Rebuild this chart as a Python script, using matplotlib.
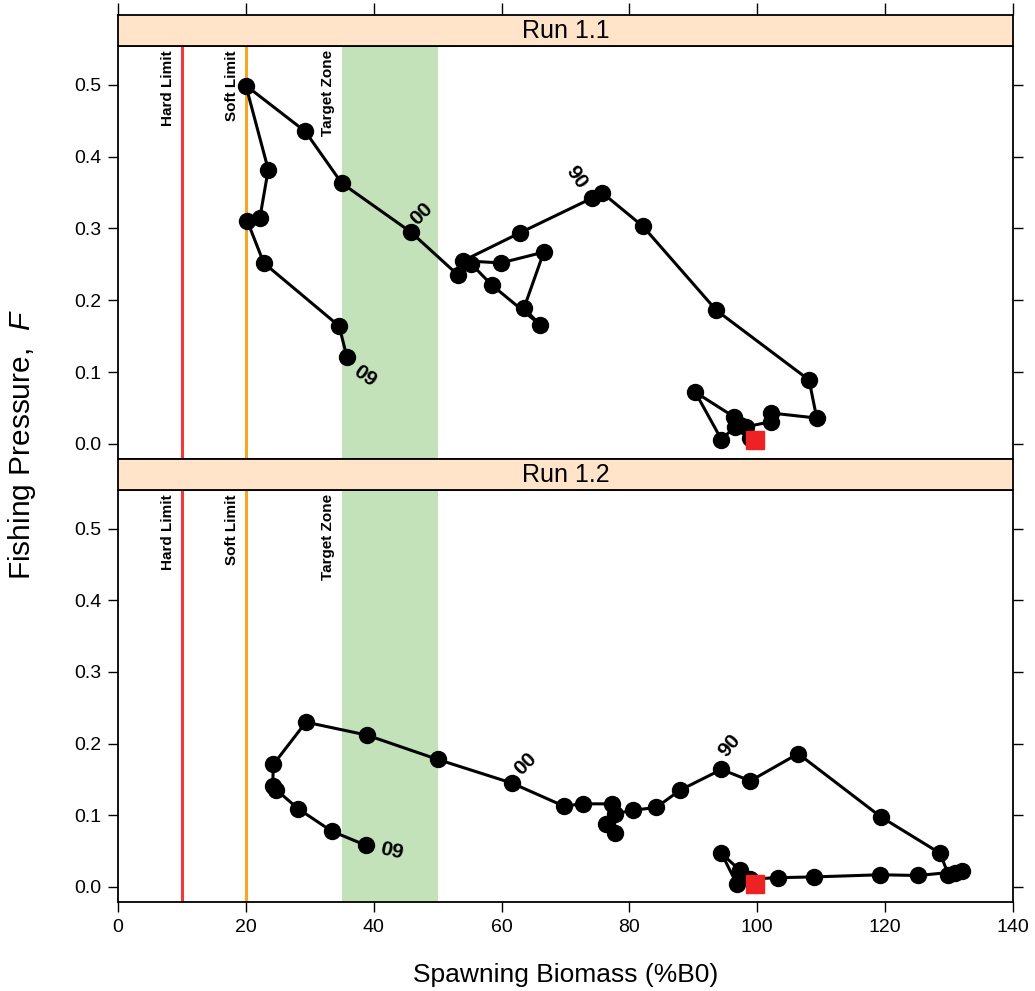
import numpy as np
import matplotlib
matplotlib.use("Agg")
import matplotlib.pyplot as plt
import matplotlib.transforms as mtransforms

plt.rcParams['font.family'] = ['Liberation Sans', 'DejaVu Sans']
plt.rcParams['mathtext.fontset'] = 'custom'
plt.rcParams['mathtext.rm'] = 'Liberation Sans'
plt.rcParams['mathtext.it'] = 'Liberation Sans:italic'

# reference points (%B0)
hard_limit = 10
soft_limit = 20
target_zone = (35, 50)

# Run 1.1 trajectory (biomass %B0, fishing pressure F)
run11_b = [99.7, 98.9, 97.3, 96.3, 90.3, 94.4, 96.5, 98.3, 102.2, 102.2, 109.3, 108.1,
           93.6, 82.1, 75.7, 74.1, 62.9, 54.0, 59.9, 66.6, 63.5, 66.0, 58.5, 55.2,
           53.2, 45.8, 35.0, 29.3, 20.0, 23.5, 22.2, 20.2, 22.8, 34.6, 35.8]
run11_f = [0.005, 0.008, 0.026, 0.038, 0.072, 0.006, 0.024, 0.024, 0.031, 0.043, 0.036, 0.089,
           0.186, 0.303, 0.350, 0.342, 0.294, 0.255, 0.252, 0.267, 0.189, 0.166, 0.221, 0.251,
           0.235, 0.295, 0.363, 0.435, 0.499, 0.382, 0.315, 0.311, 0.252, 0.164, 0.121]
run11_labels = {15: ("90", -11, 15, -55), 25: ("00", 8, 13, 45), 34: ("09", 13, -14, -35)}

# Run 1.2 trajectory
run12_b = [99.7, 97.3, 94.4, 96.8, 98.9, 103.3, 108.9, 119.2, 125.2, 132.1, 130.9, 129.9,
           128.6, 119.3, 106.4, 98.9, 94.4, 87.9, 84.2, 80.5, 77.7, 77.7, 76.4, 77.2,
           72.8, 69.7, 61.6, 50.0, 38.9, 29.4, 24.3, 24.2, 24.7, 28.2, 33.4, 38.8]
run12_f = [0.004, 0.023, 0.047, 0.004, 0.011, 0.013, 0.014, 0.017, 0.016, 0.022, 0.020, 0.017,
           0.047, 0.098, 0.186, 0.148, 0.164, 0.135, 0.111, 0.107, 0.102, 0.075, 0.088, 0.116,
           0.116, 0.113, 0.145, 0.178, 0.212, 0.230, 0.171, 0.141, 0.136, 0.109, 0.078, 0.058]
run12_labels = {16: ("90", 6, 17, 50), 26: ("00", 9.5, 14, 45), 35: ("09", 18.5, -4, -12)}

runs = [("Run 1.1", run11_b, run11_f, run11_labels),
        ("Run 1.2", run12_b, run12_f, run12_labels)]

W, H = 1035, 991
fig = plt.figure(figsize=(W / 100, H / 100), dpi=100)

left = 118 / W
width = (1013 - 118) / W
panels = [(46, 459, 15), (490, 902, 459)]  # panel top, panel bottom, strip top (px)

for i, (name, bx, fy, labels) in enumerate(runs):
    ptop, pbot, stop = panels[i]
    ax = fig.add_axes([left, 1 - pbot / H, width, (pbot - ptop) / H])
    sax = fig.add_axes([left, 1 - ptop / H, width, (ptop - stop) / H])

    ax.set_xlim(0, 140)
    ax.set_ylim(-0.021, 0.554)

    ax.axvspan(target_zone[0], target_zone[1], color='#C3E2BA', lw=0, zorder=0)
    ax.axvline(hard_limit, color='#F03A3A', lw=2.2, zorder=1)
    ax.axvline(soft_limit, color='#F5A623', lw=2.2, zorder=1)

    trans = mtransforms.blended_transform_factory(ax.transData, ax.transAxes)
    for xv, txt in [(hard_limit, "Hard Limit"), (soft_limit, "Soft Limit"), (target_zone[0], "Target Zone")]:
        ax.text(xv - 1.1, 0.99, txt, transform=trans, rotation=90, ha='right', va='top',
                fontsize=11, fontweight='bold')

    ax.plot(bx, fy, color='black', lw=2.2, marker='o', markersize=11.5, zorder=3)
    ax.plot(bx[0], fy[0], marker='s', color='#EE2222', markersize=13.5, ls='none', zorder=4)

    for idx, (txt, dx, dy, rot) in labels.items():
        ax.annotate(txt, (bx[idx], fy[idx]), xytext=(dx, dy), textcoords='offset points',
                    ha='center', va='center', rotation=rot, fontsize=15, fontweight='bold',
                    rotation_mode='anchor', zorder=5)

    ax.set_yticks(np.arange(0, 0.51, 0.1))
    ax.set_yticklabels([f"{v:.1f}" for v in np.arange(0, 0.51, 0.1)])
    ax.tick_params(axis='y', direction='out', length=7, width=1, labelsize=14,
                   left=True, right=True, labelleft=True, labelright=False, pad=5)
    ax.set_xticks(np.arange(0, 141, 20))
    if i == 1:
        ax.tick_params(axis='x', direction='out', length=7, width=1, labelsize=14, pad=5)
    else:
        ax.tick_params(axis='x', bottom=False, labelbottom=False)
    for sp in ax.spines.values():
        sp.set_linewidth(1.3)

    # strip
    sax.set_facecolor('#FFE4CA')
    sax.set_xlim(0, 140)
    sax.set_yticks([])
    sax.text(0.5, 0.5, name, transform=sax.transAxes, ha='center', va='center', fontsize=18)
    sax.set_xticks(np.arange(0, 141, 20))
    if i == 0:
        sax.tick_params(axis='x', direction='out', length=9, width=1, bottom=False,
                        labelbottom=False, top=True, labeltop=False)
    else:
        sax.tick_params(axis='x', bottom=False, labelbottom=False)
    for sp in sax.spines.values():
        sp.set_linewidth(1.3)

fig.text(22 / W, 1 - 445 / H, r"Fishing Pressure,  $\mathit{F}$", rotation=90,
         ha='center', va='center', fontsize=21.5)
fig.text((118 + 1013) / 2 / W, 1 - 975 / H, "Spawning Biomass (%B0)",
         ha='center', va='center', fontsize=19)

fig.savefig("out.png", dpi=100)
